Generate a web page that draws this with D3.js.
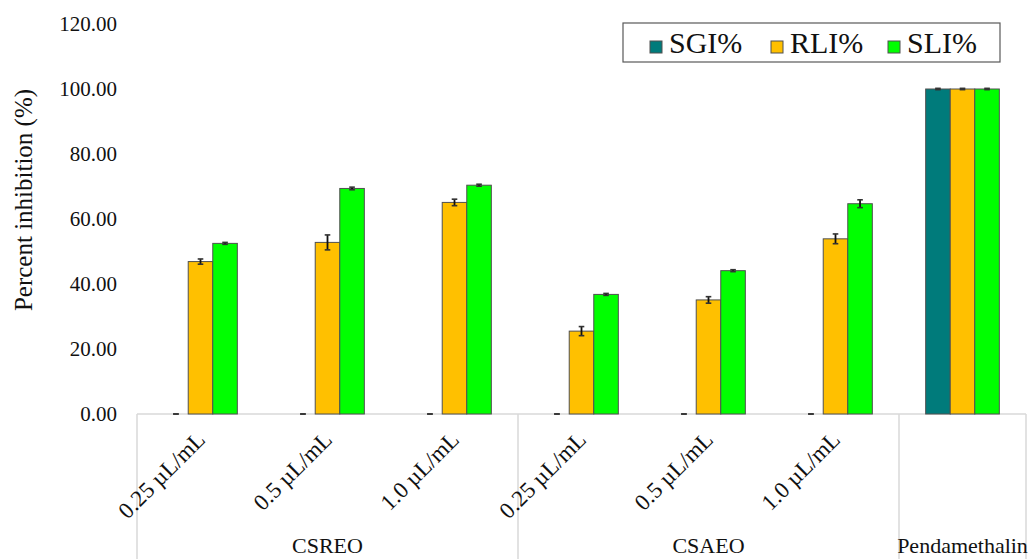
<!DOCTYPE html>
<html>
<head>
<meta charset="utf-8">
<script src="https://cdn.jsdelivr.net/npm/d3@7"></script>
<style>
  body { margin: 0; background: #fff; }
  text { font-family: "Liberation Serif", "Times New Roman", serif; fill: #111; }
</style>
</head>
<body>
<div id="chart"></div>
<script>
// data
var doses = ["0.25 µL/mL", "0.5 µL/mL", "1.0 µL/mL", "0.25 µL/mL", "0.5 µL/mL", "1.0 µL/mL", ""];
var doseGroup = ["CSREO", "CSREO", "CSREO", "CSAEO", "CSAEO", "CSAEO", "Pendamethalin"];
var groups = ["CSREO", "CSAEO", "Pendamethalin"];
var seriesNames = ["SGI%", "RLI%", "SLI%"];
var sgi = [0, 0, 0, 0, 0, 0, 100];
var sgiErr = [0, 0, 0, 0, 0, 0, 0.2];
var rli = [46.9, 52.8, 65.1, 25.5, 35.1, 53.9, 100];
var rliErr = [0.8, 2.3, 1.0, 1.4, 1.0, 1.5, 0.2];
var sli = [52.5, 69.4, 70.4, 36.8, 44.1, 64.7, 100];
var sliErr = [0.3, 0.4, 0.3, 0.3, 0.3, 1.2, 0.2];
var yTicks = [0, 20, 40, 60, 80, 100, 120];

var colors = ["#007b7b", "#ffc000", "#00ff00"];

var width = 1030, height = 559;
var plotLeft = 137, plotRight = 1026, plotTop = 24, base = 414;

var svg = d3.select("#chart")
    .append("svg")
        .attr("width", width)
        .attr("height", height);

var x = d3.scaleBand()
        .domain(d3.range(doses.length))
        .range([plotLeft, plotRight])
        .padding(0);

var bw = x.bandwidth();
var xs = d3.scaleBand()
        .domain(seriesNames)
        .range([bw * 0.21, bw * 0.79])
        .padding(0);

var y = d3.scaleLinear()
        .domain([0, 120])
        .range([base, plotTop]);

// y axis: labels only
var yAxis = svg.append("g")
    .attr("transform", "translate(" + plotLeft + ",0)")
    .call(d3.axisLeft(y).tickValues(yTicks).tickSize(0).tickPadding(20).tickFormat(d3.format(".2f")));
yAxis.attr("font-family", "Liberation Serif").attr("font-size", 21);
yAxis.select(".domain").remove();
yAxis.selectAll("text").attr("fill", "#111");

svg.append("text")
    .attr("transform", "translate(32," + 200 + ") rotate(-90)")
    .attr("text-anchor", "middle")
    .style("font-size", "25px")
    .text("Percent inhibition (%)");

// category axis line and separators
svg.append("line")
    .attr("x1", plotLeft).attr("x2", plotRight)
    .attr("y1", base).attr("y2", base)
    .attr("stroke", "#d9d9d9").attr("stroke-width", 1.5);

var sepIdx = [0];
doseGroup.forEach(function(g, i) { if (i > 0 && g !== doseGroup[i - 1]) sepIdx.push(i); });
var sepX = sepIdx.map(function(i) { return x(i); }).concat([plotRight]);

svg.selectAll(".sep")
    .data(sepX)
  .enter().append("line")
    .attr("class", "sep")
    .attr("x1", function(d) { return d; }).attr("x2", function(d) { return d; })
    .attr("y1", base).attr("y2", height)
    .attr("stroke", "#d9d9d9").attr("stroke-width", 1.5);

// bars
var data = [];
doses.forEach(function(d, i) {
    [sgi, rli, sli].forEach(function(s, k) {
        data.push({ i: i, k: k, v: s[i], e: [sgiErr, rliErr, sliErr][k][i] });
    });
});

svg.selectAll(".bar")
    .data(data.filter(function(d) { return d.v > 0; }))
  .enter().append("rect")
    .attr("class", "bar")
    .attr("x", function(d) { return x(d.i) + xs(seriesNames[d.k]); })
    .attr("width", xs.bandwidth())
    .attr("y", function(d) { return y(d.v); })
    .attr("height", function(d) { return base - y(d.v); })
    .attr("fill", function(d) { return colors[d.k]; })
    .attr("stroke", "#505050")
    .attr("stroke-width", 1);

// error bars
var eb = svg.selectAll(".err")
    .data(data)
  .enter().append("g")
    .attr("class", "err")
    .attr("transform", function(d) { return "translate(" + (x(d.i) + xs(seriesNames[d.k]) + xs.bandwidth() / 2) + ",0)"; });

eb.append("line")
    .attr("y1", function(d) { return y(d.v - d.e); })
    .attr("y2", function(d) { return y(d.v + d.e); })
    .attr("stroke", "#111").attr("stroke-width", 1.8);
eb.selectAll(".cap")
    .data(function(d) { return [d.v - d.e, d.v + d.e]; })
  .enter().append("line")
    .attr("x1", -2.8).attr("x2", 2.8)
    .attr("y1", function(v) { return y(v); })
    .attr("y2", function(v) { return y(v); })
    .attr("stroke", "#333").attr("stroke-width", 1.6);

// dose labels
svg.selectAll(".dose")
    .data(doses)
  .enter().append("text")
    .attr("class", "dose")
    .attr("text-anchor", "end")
    .attr("transform", function(d, i) { return "translate(" + (x(i) + bw / 2 + 6) + ",441) rotate(-45)"; })
    .style("font-size", "23px")
    .text(function(d) { return d; });

// group labels
svg.selectAll(".grp")
    .data(groups)
  .enter().append("text")
    .attr("class", "grp")
    .attr("text-anchor", "middle")
    .attr("x", function(g) {
        var idx = d3.range(doses.length).filter(function(i) { return doseGroup[i] === g; });
        return (x(idx[0]) + x(idx[idx.length - 1]) + bw) / 2;
    })
    .attr("y", 553)
    .style("font-size", "22px")
    .text(function(g) { return g; });

// legend
var legend = svg.append("g");
legend.append("rect")
    .attr("x", 623).attr("y", 23)
    .attr("width", 377).attr("height", 39)
    .attr("fill", "#fff")
    .attr("stroke", "#595959").attr("stroke-width", 1.2);

var legX = [650, 771, 888];
var item = legend.selectAll(".leg")
    .data(seriesNames)
  .enter().append("g")
    .attr("class", "leg")
    .attr("transform", function(d, i) { return "translate(" + legX[i] + ",0)"; });
item.append("rect")
    .attr("y", 41).attr("width", 12).attr("height", 12)
    .attr("fill", function(d, i) { return colors[i]; })
    .attr("stroke", "#505050").attr("stroke-width", 1);
item.append("text")
    .attr("x", 19).attr("y", 53)
    .style("font-size", "30px")
    .text(function(d) { return d; });
</script>
</body>
</html>
